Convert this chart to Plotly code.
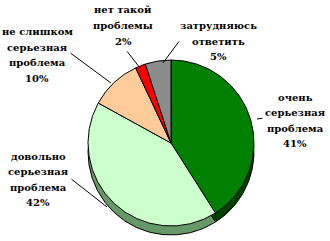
import plotly.graph_objects as go

# Data
label_lines = [
    ["очень", "серьезная", "проблема"],
    ["довольно", "серьезная", "проблема"],
    ["не слишком", "серьезная", "проблема"],
    ["нет такой", "проблемы"],
    ["затрудняюсь", "ответить"],
]
labels = [" ".join(l) for l in label_lines]
values = [41, 42, 10, 2, 5]

top_colors = ["#008000", "#CCFFCC", "#FFCC99", "#FF0000", "#8C8C8C"]
side_colors = ["#004000", "#669966", "#B38F6B", "#990000", "#555555"]

W, H = 330, 241
cx, cy, r, depth = 171, 143, 83, 9


def dom(cx, cy, r):
    return dict(x=[(cx - r) / W, (cx + r) / W],
                y=[1 - (cy + r) / H, 1 - (cy - r) / H])


fig = go.Figure()
# side (depth) of the 3-D pie
fig.add_trace(go.Pie(
    labels=labels, values=values, sort=False, direction="clockwise", rotation=0,
    marker=dict(colors=side_colors, line=dict(color="black", width=1)),
    textinfo="none", hoverinfo="skip", domain=dom(cx, cy + depth, r), showlegend=False,
))
# top of the pie
fig.add_trace(go.Pie(
    labels=labels, values=values, sort=False, direction="clockwise", rotation=0,
    marker=dict(colors=top_colors, line=dict(color="black", width=1)),
    textinfo="none", hoverinfo="skip", domain=dom(cx, cy, r), showlegend=False,
))

# label layout: text centre x, first-line y, leader tip, leader tail (pixels)
text_x = [295, 38, 37, 123, 218]
text_y0 = [97, 156, 32, 10, 25.5]
line_gap = 15.5
lead_tip = [(257, 119), (107, 207), (111, 83), (140, 68), (163, 63)]
lead_tail = [(264, 118), (70, 178), (69, 52), (126, 50), (180, 40)]

font = dict(family="DejaVu Serif", size=10, color="black", weight="bold")
annotations = []
for lines, v, tx, ty0, (px, py), (qx, qy) in zip(label_lines, values, text_x, text_y0, lead_tip, lead_tail):
    for i, s in enumerate(lines + [f"{v}%"]):
        annotations.append(dict(
            x=tx / W, y=1 - (ty0 + i * line_gap) / H, xref="paper", yref="paper",
            text=s, showarrow=False, xanchor="center", yanchor="middle", font=font,
        ))
    annotations.append(dict(
        x=px / W, y=1 - py / H, xref="paper", yref="paper", text="", showarrow=True,
        ax=qx - px, ay=qy - py, arrowhead=0, arrowwidth=1, arrowcolor="black",
        standoff=0, startstandoff=0,
    ))

fig.update_layout(
    width=W, height=H, margin=dict(l=0, r=0, t=0, b=0),
    paper_bgcolor="white", plot_bgcolor="white",
    annotations=annotations, showlegend=False,
)

fig.write_html("out.html")
